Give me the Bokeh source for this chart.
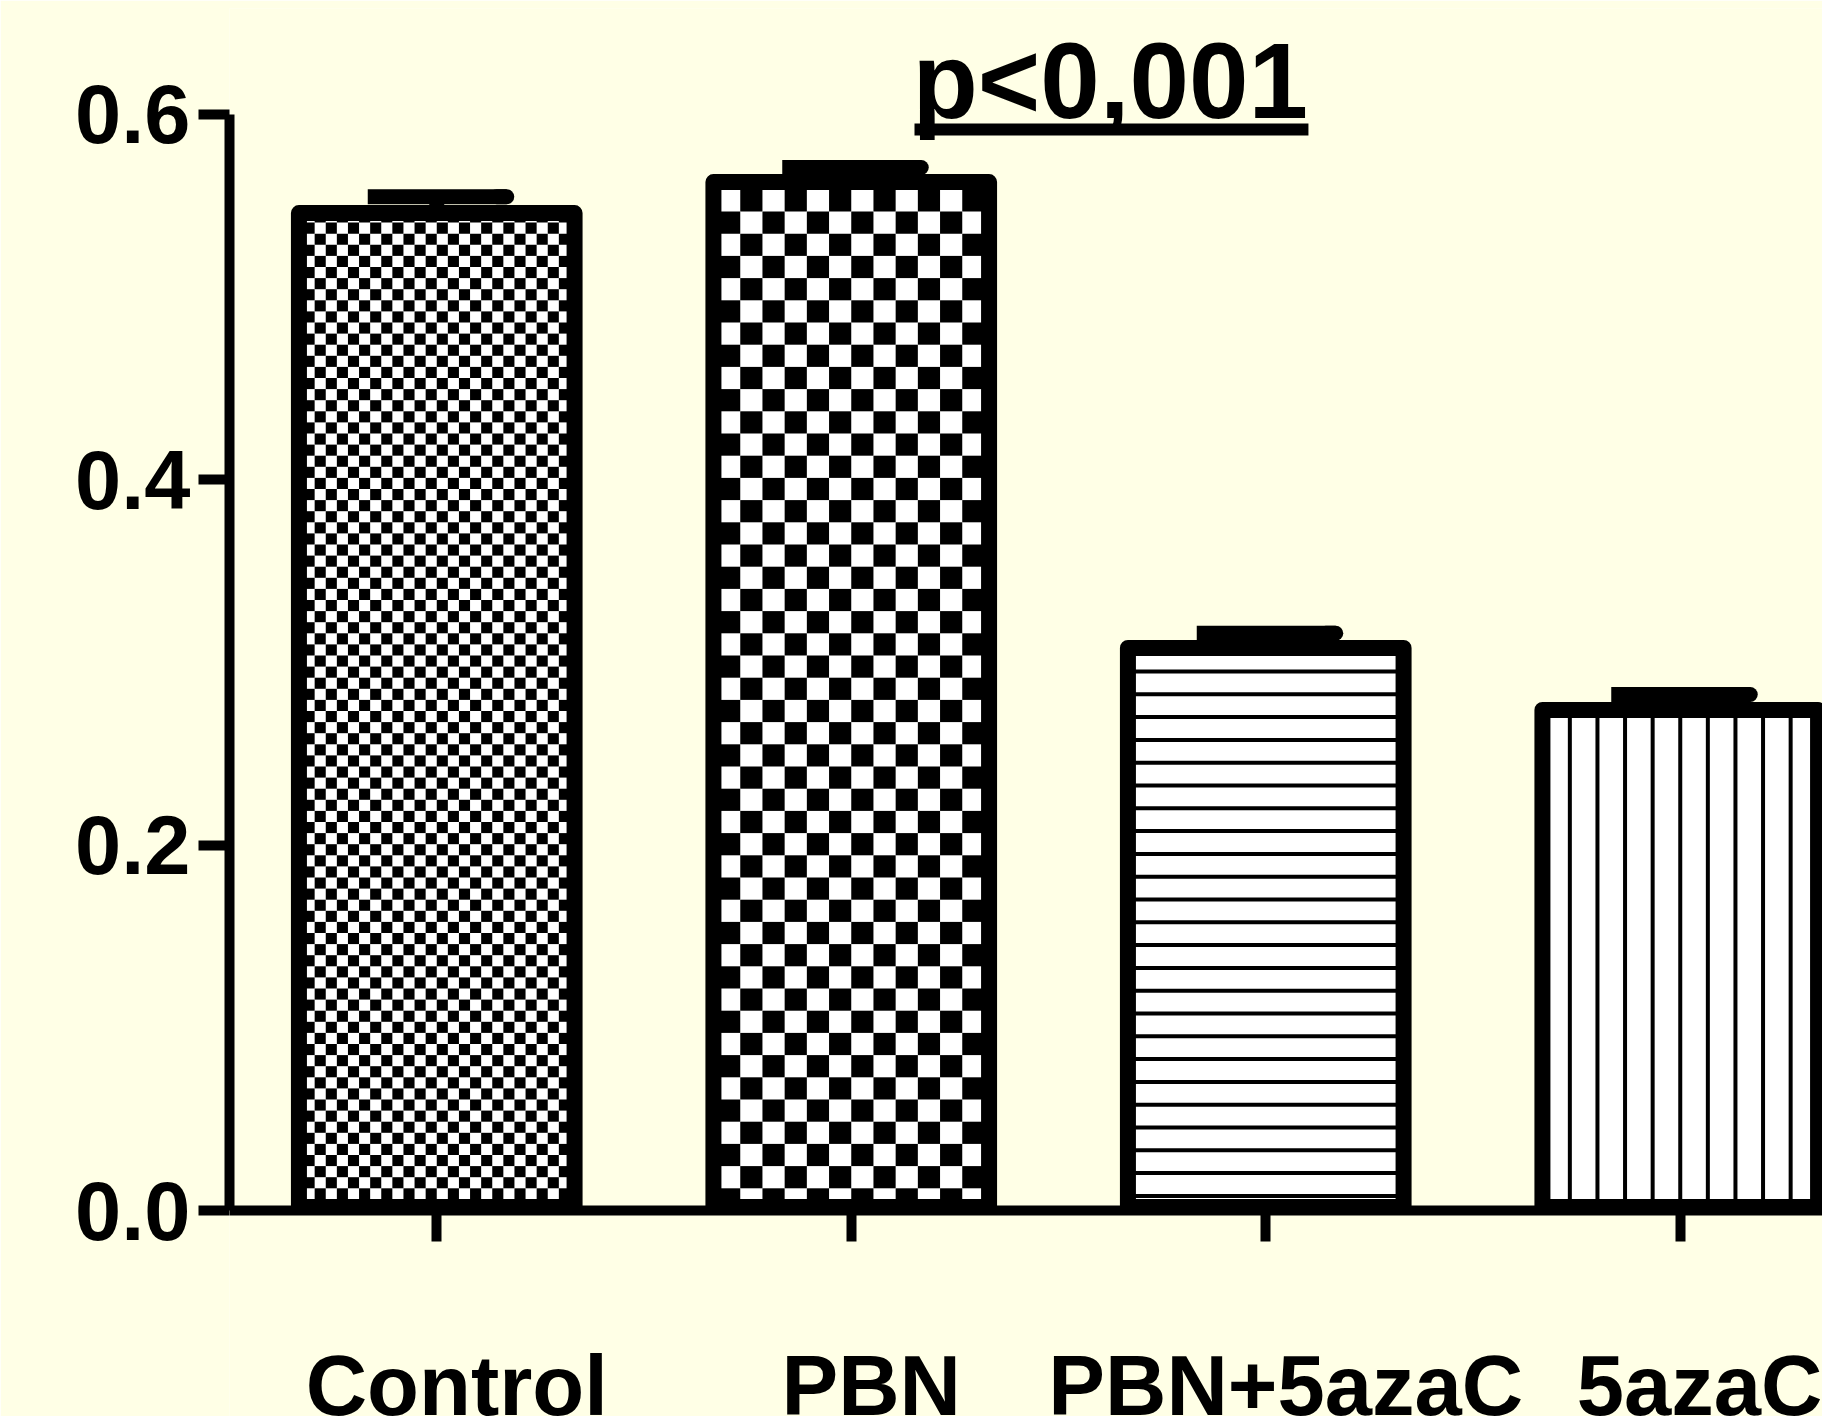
import numpy as np
from bokeh.plotting import figure
from bokeh.models import Range1d, FixedTicker
from bokeh.core.properties import value
from bokeh.embed import file_html
from bokeh.resources import INLINE

# ---------------- data ----------------
categories = ["Control", "PBN", "PBN+5azaC", "5azaC"]
means = [0.546, 0.563, 0.308, 0.274]
sems = [0.009, 0.008, 0.008, 0.0085]
patterns = ["fine_checker", "coarse_checker", "hlines", "vlines"]
y_ticks = [0.0, 0.2, 0.4, 0.6]
y_tick_labels = ["0.0", "0.2", "0.4", "0.6"]
p_text = "p<0,001"

# ---------------- layout / style ----------------
BG = "#FFFFE6"
FONT = "Liberation Sans"
W, H = 1822, 1416
LEFT = 229
TOP = 8
ZERO_PX = 1210            # vertical pixel position of value 0
PX_X = 414.5              # pixels per category unit
PX_Y = 1826.7             # pixels per value unit
frame_w = W - LEFT
x_end = frame_w / PX_X
y_end = (ZERO_PX - TOP) / PX_Y
y_start = -(H - ZERO_PX) / PX_Y
BAR_W = 0.665

xs = np.arange(len(categories)) + 0.5
means_a = np.array(means)
sems_a = np.array(sems)

p = figure(width=W, height=H, x_range=Range1d(0, x_end), y_range=Range1d(y_start, y_end),
           output_backend="svg", toolbar_location=None,
           min_border_left=LEFT, min_border_right=0, min_border_top=TOP,
           min_border_bottom=0, background_fill_color=BG,
           border_fill_color=BG, outline_line_color=None)
p.grid.visible = False

# y axis
ya = p.yaxis[0]
ya.ticker = FixedTicker(ticks=y_ticks)
ya.major_label_overrides = {t: l for t, l in zip(y_ticks, y_tick_labels)}
ya.bounds = (y_ticks[0], y_ticks[-1])
ya.axis_line_width = 10
ya.axis_line_color = "black"
ya.major_tick_line_width = 10
ya.major_tick_line_color = "black"
ya.major_tick_out = 31
ya.major_tick_in = 0
ya.minor_tick_out = 0
ya.minor_tick_in = 0
ya.minor_tick_line_color = None
ya.major_label_text_font = FONT
ya.major_label_text_font_style = "bold"
ya.major_label_text_font_size = "83px"
ya.major_label_text_color = "black"
ya.major_label_standoff = 8

# x axis at value 0: tick marks at category centres (minor ticks), names slightly right
label_pos = [float(v) for v in xs + 20 / PX_X]
xa = p.xaxis[0]
xa.fixed_location = 0
xa.ticker = FixedTicker(ticks=label_pos, minor_ticks=[float(v) for v in xs])
xa.major_label_overrides = {k: c for k, c in zip(label_pos, categories)}
xa.axis_line_width = 10
xa.axis_line_color = "black"
xa.major_tick_out = 0
xa.major_tick_in = 0
xa.major_tick_line_color = None
xa.minor_tick_line_width = 10
xa.minor_tick_line_color = "black"
xa.minor_tick_out = 31
xa.minor_tick_in = 0
xa.major_label_text_font = FONT
xa.major_label_text_font_style = "bold"
xa.major_label_text_font_size = "85px"
xa.major_label_text_color = "black"
xa.major_label_standoff = 96

# white bar fills
p.vbar(x=xs, top=means_a, bottom=0, width=BAR_W, fill_color="white", line_color=None)

# pattern fills
qL, qR, qB, qT = [], [], [], []
hx0, hx1, hy0, hy1 = [], [], [], []
for cx, top, pat in zip(xs, means_a, patterns):
    left, right = cx - BAR_W / 2, cx + BAR_W / 2
    if pat in ("fine_checker", "coarse_checker"):
        s = 11.1 if pat == "fine_checker" else 22.2
        sx, sy = s / PX_X, s / PX_Y
        kmin = int(np.floor((left - cx) / sx)) - 1
        kmax = int(np.ceil((right - cx) / sx)) + 1
        jmax = int(np.ceil(top / sy)) + 1
        for k in range(kmin, kmax):
            for j in range(0, jmax):
                if (k + j) % 2:
                    continue
                l = max(cx + k * sx, left)
                r = min(cx + (k + 1) * sx, right)
                b = max(j * sy, 0)
                t = min((j + 1) * sy, top)
                if r > l and t > b:
                    qL.append(l); qR.append(r); qB.append(b); qT.append(t)
    elif pat == "hlines":
        sp, off = 22.8 / PX_Y, 14.6 / PX_Y
        yy = off
        while yy < top:
            hx0.append(left); hx1.append(right); hy0.append(yy); hy1.append(yy)
            yy += sp
    elif pat == "vlines":
        sp = 27.6 / PX_X
        for k in range(-5, 6):
            xx = cx + k * sp
            if left < xx < right:
                hx0.append(xx); hx1.append(xx); hy0.append(0); hy1.append(top)

p.quad(left=qL, right=qR, bottom=qB, top=qT, fill_color="black", line_color=None)
p.segment(x0=hx0, y0=hy0, x1=hx1, y1=hy1, line_color="black", line_width=4)

# bar outlines (bottom edge tucked under the axis line)
OUT_B = 3.5 / PX_Y
p.vbar(x=xs, top=means_a, bottom=OUT_B, width=BAR_W, fill_color=None,
       line_color="black", line_width=16, line_join="round")

# error bars
CAP_L, CAP_R = 69 / PX_X, 70 / PX_X
p.segment(x0=xs, y0=means_a, x1=xs, y1=means_a + sems_a, line_color="black", line_width=15)
p.segment(x0=xs - CAP_L, y0=means_a + sems_a, x1=xs + CAP_R, y1=means_a + sems_a,
          line_color="black", line_width=15, line_cap="butt")
p.segment(x0=xs + CAP_R - 10 / PX_X, y0=means_a + sems_a, x1=xs + CAP_R, y1=means_a + sems_a,
          line_color="black", line_width=15, line_cap="round")

# significance annotation
p.text(x=[2.125], y=[0.6185], text=[p_text], text_align="center", text_baseline="alphabetic",
       text_font=value(FONT), text_font_style="bold", text_font_size="107px", text_color="black")
p.segment(x0=[1.6526], y0=[0.5918], x1=[2.603], y1=[0.5918], line_color="black", line_width=12)

open("out.html", "w").write(file_html(p, INLINE))
